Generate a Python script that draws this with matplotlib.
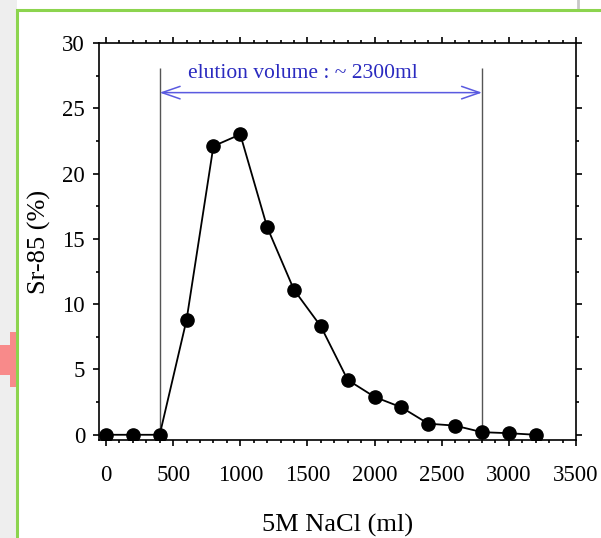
import numpy as np
import matplotlib.pyplot as plt
from matplotlib.patches import Rectangle, Polygon
from matplotlib.ticker import MultipleLocator

plt.rcParams['font.family'] = ['Liberation Serif', 'DejaVu Serif']

# data
volume = [0, 200, 400, 600, 800, 1000, 1200, 1400, 1600, 1800, 2000, 2200, 2400, 2600, 2800, 3000, 3200]
sr85 = [0.0, 0.0, 0.0, 8.8, 22.1, 23.0, 15.9, 11.1, 8.3, 4.2, 2.9, 2.1, 0.85, 0.7, 0.2, 0.12, 0.0]
elution_start = 400
elution_end = 2800
elution_label = 'elution volume : ~ 2300ml'

W, H = 601, 538
fig = plt.figure(figsize=(W / 100, H / 100), dpi=100)

# slide-like surroundings
fig.patches.append(Rectangle((0, 0), 17 / W, 1, transform=fig.transFigure,
                             facecolor='#eeeeee', edgecolor='none', zorder=0))
fig.patches.append(Polygon([(0, 1 - 345 / H), (10 / W, 1 - 345 / H), (10 / W, 1 - 332 / H),
                            (17 / W, 1 - 332 / H), (17 / W, 1 - 387 / H), (10 / W, 1 - 387 / H),
                            (10 / W, 1 - 375 / H), (0, 1 - 375 / H)],
                           closed=True, transform=fig.transFigure,
                           facecolor='#f88a8a', edgecolor='none', zorder=1))
fig.patches.append(Rectangle((17 / W, -0.05), 1, 1 - 10 / H + 0.05, transform=fig.transFigure,
                             facecolor='white', edgecolor='#8cd44e', linewidth=2.2, zorder=2))
fig.lines.append(plt.Line2D([578 / W, 578 / W], [1, 1 - 10 / H], transform=fig.transFigure,
                            color='#c8c8c8', linewidth=2))

ax = fig.add_axes([99 / W, 98 / H, 477 / W, 397 / H])
ax.set_zorder(5)

ax.plot(volume, sr85, color='black', linewidth=1.3, marker='o', markersize=9.5, zorder=4)

ax.vlines([elution_start, elution_end], -0.4, 28.1, color='#555555', linewidth=1)
ax.annotate('', xy=(elution_start, 26.2), xytext=(elution_end, 26.2),
            arrowprops=dict(arrowstyle='<->,head_length=1.3,head_width=0.45',
                            color='#5a5ae0', linewidth=1.1, shrinkA=0, shrinkB=0))
ax.text(610, 26.9, elution_label, color='#2a2ac0', fontsize=15.5, ha='left', va='bottom')

ax.set_xlim(-52, 3500)
ax.set_ylim(-0.4, 30)
ax.xaxis.set_major_locator(MultipleLocator(500))
ax.xaxis.set_minor_locator(MultipleLocator(100))
ax.yaxis.set_major_locator(MultipleLocator(5))
ax.yaxis.set_minor_locator(MultipleLocator(2.5))
ax.tick_params(which='both', direction='out', top=True, right=True, width=1.2)
ax.tick_params(which='major', length=4, labelsize=16.5, pad=6)
ax.tick_params(which='minor', length=2.5)
ax.tick_params(axis='x', which='major', pad=14)
for s in ax.spines.values():
    s.set_linewidth(1.2)

ax.set_xlabel('5M NaCl (ml)', fontsize=19, labelpad=20)
ax.set_ylabel('Sr-85 (%)', fontsize=19, labelpad=8)

fig.savefig('out.png', dpi=100)
